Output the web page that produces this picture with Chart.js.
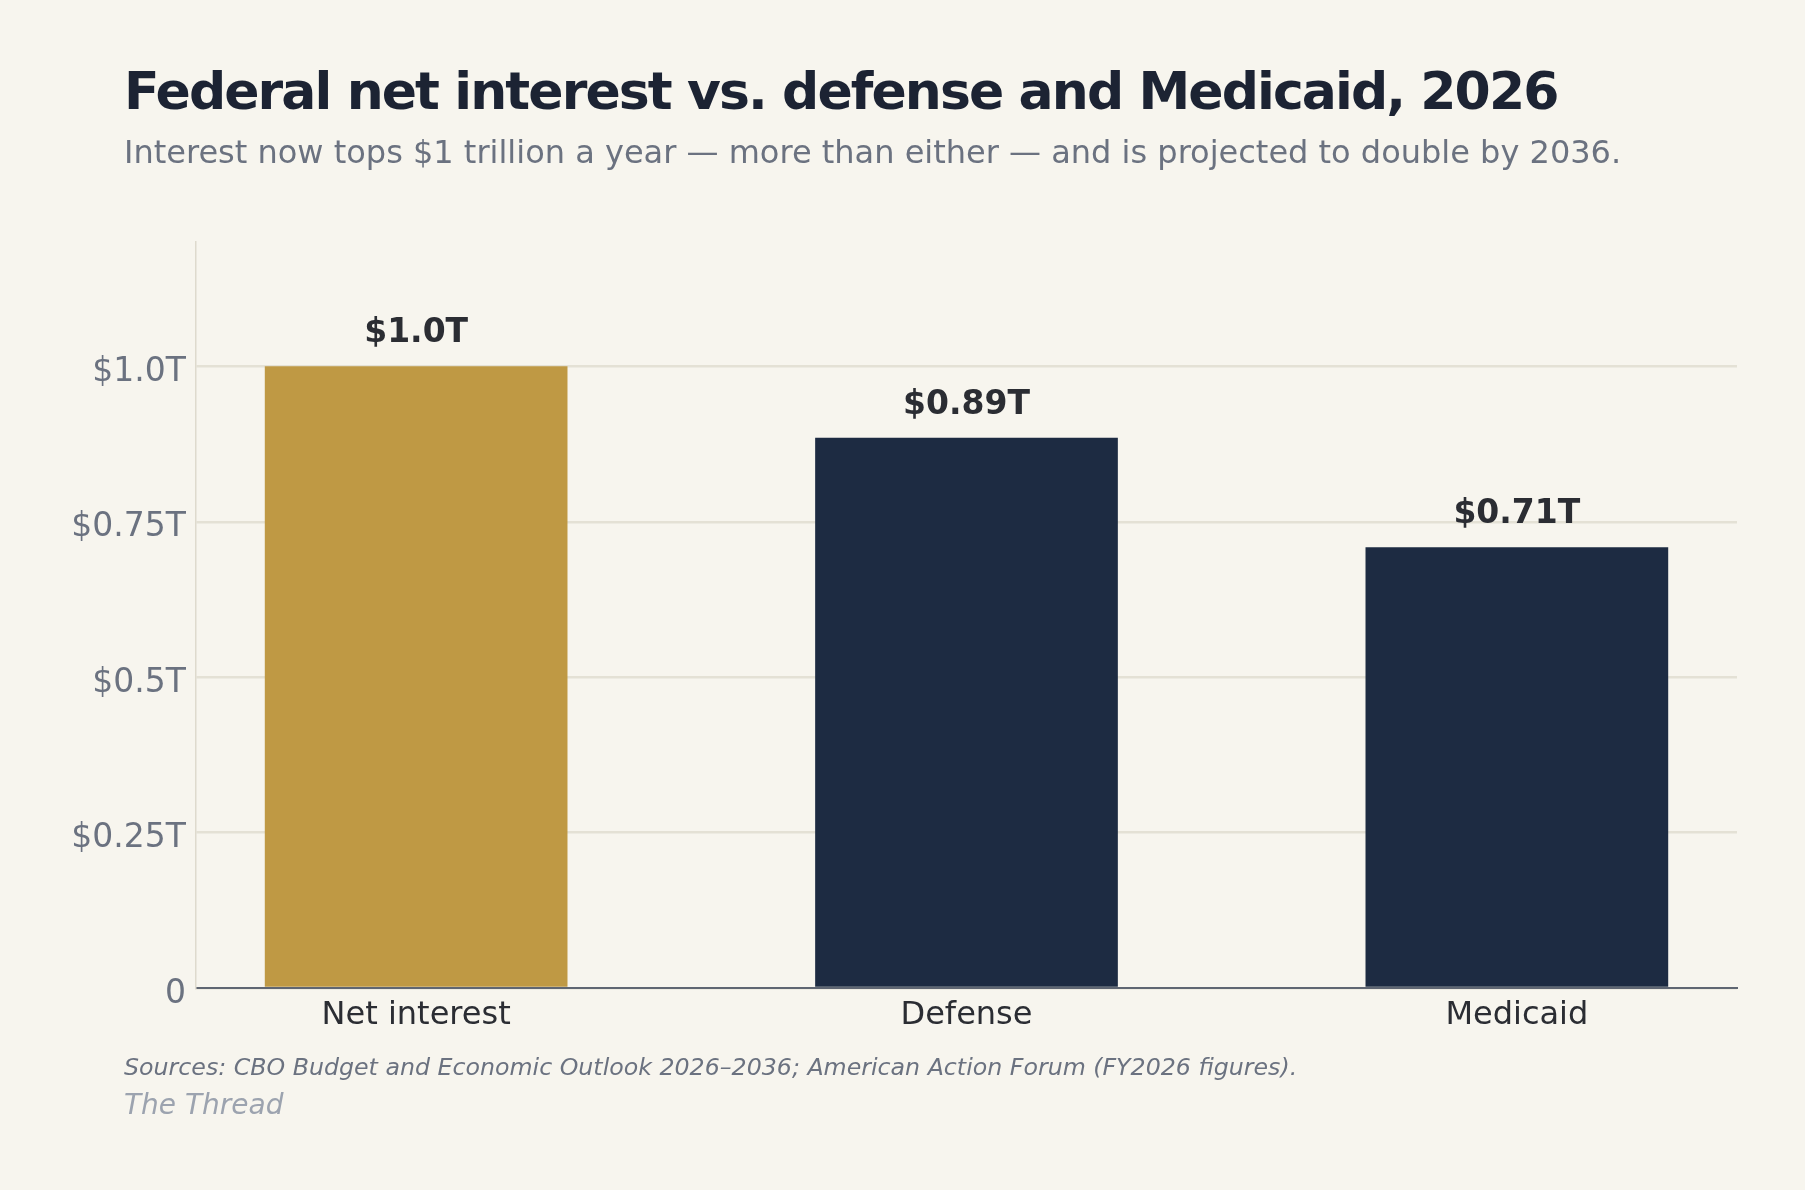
<!DOCTYPE html>
<html>
<head>
<meta charset="utf-8">
<script src="https://cdn.jsdelivr.net/npm/chart.js@4.4.1/dist/chart.umd.min.js"></script>
<style>
  html, body { margin: 0; padding: 0; background: #f7f5ee; }
  body { width: 1805px; height: 1190px; position: relative; overflow: hidden; font-family: "DejaVu Sans", sans-serif; }
  #chart { position: absolute; left: 0; top: 0; }
  .txt { position: absolute; left: 124px; line-height: 1; white-space: nowrap; }
  #title { top: 65px; font-size: 52px; font-weight: bold; color: #1c2333; letter-spacing: -1.9px; }
  #subtitle { top: 136px; font-size: 32px; color: #6b7280; }
  #source { top: 1056px; font-size: 23.7px; font-style: italic; color: #6b7280; }
  #brand { top: 1091px; font-size: 28px; font-style: italic; color: #9ca3af; }
</style>
</head>
<body>
<canvas id="chart" width="1805" height="1190"></canvas>
<div class="txt" id="title">Federal net interest vs. defense and Medicaid, 2026</div>
<div class="txt" id="subtitle">Interest now tops $1 trillion a year — more than either — and is projected to double by 2036.</div>
<div class="txt" id="source">Sources: CBO Budget and Economic Outlook 2026–2036; American Action Forum (FY2026 figures).</div>
<div class="txt" id="brand">The Thread</div>
<script>
// data (trillions of dollars)
var categories = ['Net interest', 'Defense', 'Medicaid'];
var values = [1.0, 0.885, 0.709];
var valueLabels = ['$1.0T', '$0.89T', '$0.71T'];
var barColors = ['#bf9944', '#1d2b42', '#1d2b42'];
var tickValues = [0, 0.25, 0.5, 0.75, 1.0];
var tickLabels = ['0', '$0.25T', '$0.5T', '$0.75T', '$1.0T'];

var valueLabelPlugin = {
  id: 'valueLabels',
  afterDatasetsDraw: function(chart) {
    var ctx = chart.ctx;
    var meta = chart.getDatasetMeta(0);
    ctx.save();
    ctx.font = 'bold 33px "DejaVu Sans"';
    ctx.fillStyle = '#2b2d33';
    ctx.textAlign = 'center';
    ctx.textBaseline = 'alphabetic';
    meta.data.forEach(function(bar, i) {
      ctx.fillText(valueLabels[i], bar.x, bar.y - 24);
    });
    ctx.restore();
  }
};

window.onload = function() {
  var ctx = document.getElementById('chart').getContext('2d');
  new Chart(ctx, {
    type: 'bar',
    data: {
      datasets: [{
        data: values.map(function(v, i) { return { x: i, y: v }; }),
        backgroundColor: barColors,
        borderWidth: 0,
        barPercentage: 0.55,
        categoryPercentage: 1
      }]
    },
    options: {
      responsive: false,
      animation: false,
      devicePixelRatio: 1,
      layout: { padding: { left: 0, top: 242, right: 68, bottom: 142 } },
      plugins: { legend: { display: false }, tooltip: { enabled: false } },
      scales: {
        x: {
          type: 'linear',
          offset: false,
          min: -0.4,
          max: 2.4,
          afterBuildTicks: function(axis) {
            axis.ticks = categories.map(function(c, i) { return { value: i }; });
          },
          afterFit: function(axis) { axis.height = 60; },
          grid: { display: false },
          border: { display: true, color: '#5f6672', width: 2 },
          ticks: {
            padding: 0,
            color: '#2b2d33',
            font: { family: 'DejaVu Sans', size: 32 },
            maxRotation: 0,
            callback: function(v) { return categories[v]; }
          }
        },
        y: {
          min: 0,
          max: 1.2,
          afterBuildTicks: function(axis) {
            axis.ticks = tickValues.map(function(v) { return { value: v }; });
          },
          afterFit: function(axis) { axis.width = 196; },
          grid: { color: '#e4e1d5', lineWidth: 2.5, drawTicks: false },
          border: { display: true, color: '#dedacd', width: 1.5 },
          ticks: {
            padding: 10,
            labelOffset: 6,
            color: '#6b7280',
            font: { family: 'DejaVu Sans', size: 33 },
            callback: function(v) {
              var k = tickValues.indexOf(v);
              return k >= 0 ? tickLabels[k] : '';
            }
          }
        }
      }
    },
    plugins: [valueLabelPlugin]
  });
};
</script>
</body>
</html>
